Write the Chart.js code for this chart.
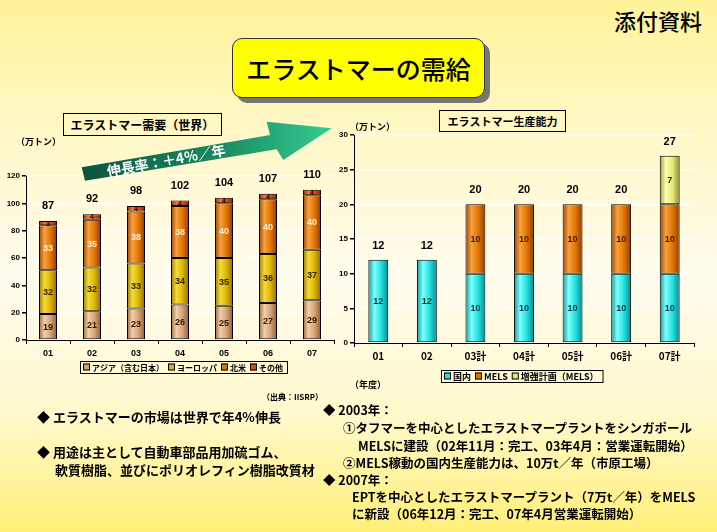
<!DOCTYPE html>
<html lang="ja">
<head>
<meta charset="utf-8">
<title>エラストマーの需給</title>
<script src="https://cdn.jsdelivr.net/npm/chart.js@4.4.1/dist/chart.umd.min.js"></script>
<style>
  html, body { margin: 0; padding: 0; }
  body {
    width: 717px; height: 532px; position: relative; overflow: hidden;
    background: linear-gradient(to bottom, #fff39a 0%, #fff7c2 22%, #fffcee 52%, #fff9cc 78%, #ffef78 100%);
    font-family: "Noto Sans CJK JP", sans-serif; color: #000;
  }
  .t { position: absolute; white-space: nowrap; font-weight: bold; }
  canvas { position: absolute; }
  .box { position: absolute; border: 1px solid #000; text-align: center; box-sizing: border-box; font-weight: bold; }
  #title {
    position: absolute; left: 232px; top: 38px; width: 253px; height: 60px; box-sizing: border-box;
    background: #ffff00; border: 1px solid #333; border-radius: 10px; box-shadow: 5px 5px 0 #777;
    font-size: 25px; font-weight: 500; line-height: 58px; text-align: center;
  }
  .line { position: absolute; white-space: nowrap; font-weight: bold; font-size: 13px; line-height: 17px; }
  .r { font-size: 12.5px; }
</style>
</head>
<body>

<div class="t" style="left:614px; top:4px; font-size:22px; font-weight:500;">添付資料</div>
<div id="title">エラストマーの需給</div>

<div class="box" style="left:63px; top:113px; width:159px; height:23px; font-size:12px; line-height:21px;">エラストマー需要（世界）</div>
<div class="box" style="left:439px; top:110px; width:127px; height:22px; font-size:11px; line-height:20px;">エラストマー生産能力</div>

<canvas id="demand" width="345" height="220" style="left:0; top:160px; width:345px; height:220px;"></canvas>
<canvas id="capacity" width="389" height="270" style="left:328px; top:120px; width:389px; height:270px;"></canvas>

<svg width="717" height="532" style="position:absolute; left:0; top:0; pointer-events:none;">
  <defs>
    <linearGradient id="arrowFill" x1="0" y1="0" x2="1" y2="0">
      <stop offset="0" stop-color="#0b5440"/>
      <stop offset="0.55" stop-color="#1a8a62"/>
      <stop offset="1" stop-color="#34cc90"/>
    </linearGradient>
  </defs>
  <polygon points="81.7,167.3 270,135 266.7,121.7 331.7,128.3 283.3,160 276.7,149.3 85,180.7" fill="url(#arrowFill)"/>
  <text x="166" y="160" transform="rotate(-10.5 166 160)" text-anchor="middle" dominant-baseline="central"
        fill="#fff" font-size="14" font-weight="bold" font-family="Noto Sans CJK JP">伸長率：＋4％／年</text>
</svg>

<div class="t" style="left:16px; top:135px; font-size:9px;">（万トン）</div>
<div class="t" style="left:350px; top:120px; font-size:9px;">（万トン）</div>
<div class="t" style="left:350px; top:378px; font-size:9px;">（年度）</div>
<div class="t" style="left:262px; top:391px; font-size:8px;">（出典：IISRP）</div>

<div class="line" style="left:37px; top:408px;">◆ エラストマーの市場は世界で年4%伸長</div>
<div class="line" style="left:37px; top:443px;">◆ 用途は主として自動車部品用加硫ゴム、</div>
<div class="line" style="left:55px; top:461px;">軟質樹脂、並びにポリオレフィン樹脂改質材</div>

<div class="line r" style="left:323px; top:401px;">◆ 2003年：</div>
<div class="line r" style="left:343px; top:419px;">①タフマーを中心としたエラストマープラントをシンガポール</div>
<div class="line r" style="left:358px; top:437px;">MELSに建設（02年11月：完工、03年4月：営業運転開始）</div>
<div class="line r" style="left:343px; top:454px;">②MELS稼動の国内生産能力は、10万t／年（市原工場）</div>
<div class="line r" style="left:323px; top:471px;">◆ 2007年：</div>
<div class="line r" style="left:352px; top:488px;">EPTを中心としたエラストマープラント（7万t／年）をMELS</div>
<div class="line r" style="left:352px; top:505px;">に新設（06年12月：完工、07年4月営業運転開始）</div>

<script>
// world demand, 10k tonnes
const years = ['01', '02', '03', '04', '05', '06', '07'];
const asia = [19, 21, 23, 26, 25, 27, 29];
const europe = [32, 32, 33, 34, 35, 36, 37];
const northAmerica = [33, 35, 38, 38, 40, 40, 40];
const others = [3, 4, 4, 4, 4, 4, 4];
const demandTotals = [87, 92, 98, 102, 104, 107, 110];

// production capacity, 10k tonnes
const fiscalYears = ['01', '02', '03計', '04計', '05計', '06計', '07計'];
const domestic = [12, 12, 10, 10, 10, 10, 10];
const mels = [0, 0, 10, 10, 10, 10, 10];
const expansion = [0, 0, 0, 0, 0, 0, 7];
const capacityTotals = [12, 12, 20, 20, 20, 20, 27];

const BAR_FRACTION = 0.41;

// edge, highlight, body, edge
const tanShade = ['#9c6a44', '#f2cfa8', '#d6a072', '#8e5c38'];
const goldShade = ['#9a7c00', '#f6da3a', '#dcb400', '#8a6c00'];
const orangeShade = ['#9a4600', '#f8a040', '#e27400', '#8a3c00'];
const redShade = ['#9a2800', '#f87040', '#e04810', '#8a2000'];
const cyanShade = ['#0c9a9a', '#80ffff', '#22e0e0', '#0a8888'];
const paleShade = ['#9c9c3c', '#ffffb0', '#e6e67a', '#8c8c30'];

// cylinder look: horizontal gradient across each bar
function cylinder(shade) {
    return function (c) {
        const chart = c.chart;
        const xs = chart.scales.x;
        if (c.type !== 'data' || !xs || !chart.chartArea) return shade[2];
        const w = xs.width / chart.data.labels.length * BAR_FRACTION;
        const x = xs.getPixelForValue(c.dataIndex);
        const g = chart.ctx.createLinearGradient(x - w / 2, 0, x + w / 2, 0);
        g.addColorStop(0, shade[0]);
        g.addColorStop(0.3, shade[1]);
        g.addColorStop(0.65, shade[2]);
        g.addColorStop(1, shade[3]);
        return g;
    };
}

function barSet(label, data, shade) {
    return {
        label: label,
        data: data,
        backgroundColor: cylinder(shade),
        borderColor: '#000',
        borderWidth: c => (c.raw ? 1 : 0),
        borderSkipped: false,
        categoryPercentage: 1,
        barPercentage: BAR_FRACTION
    };
}

// segment values + totals on top
const barLabels = {
    id: 'barLabels',
    afterDatasetsDraw(chart, args, opts) {
        const ctx = chart.ctx;
        ctx.save();
        ctx.textAlign = 'center';
        ctx.textBaseline = 'middle';
        chart.data.datasets.forEach((ds, di) => {
            const meta = chart.getDatasetMeta(di);
            ctx.font = opts.fonts[di];
            ctx.fillStyle = opts.colors[di];
            meta.data.forEach((bar, i) => {
                if (!ds.data[i]) return;
                ctx.fillText(ds.data[i], bar.x, (bar.y + bar.base) / 2 + 0.5);
            });
        });
        ctx.font = opts.totalFont;
        ctx.fillStyle = '#000';
        opts.totals.forEach((t, i) => {
            let top = chart.chartArea.bottom;
            chart.data.datasets.forEach((ds, di) => {
                if (ds.data[i]) top = Math.min(top, chart.getDatasetMeta(di).data[i].y);
            });
            ctx.fillText(t, chart.getDatasetMeta(0).data[i].x, top - opts.gap);
        });
        ctx.restore();
    }
};

// boxed legend under the axis
const boxLegend = {
    id: 'boxLegend',
    afterDraw(chart, args, opts) {
        const ctx = chart.ctx;
        ctx.save();
        ctx.font = opts.font;
        ctx.textBaseline = 'middle';
        ctx.lineWidth = 1;
        ctx.strokeStyle = '#000';
        const cy = opts.y + opts.h / 2;
        let x = opts.x + 3;
        chart.data.datasets.forEach((ds, di) => {
            ctx.fillStyle = opts.colors[di];
            ctx.fillRect(x, cy - 3.5, 7, 7);
            ctx.strokeRect(x + 0.5, cy - 3, 6, 6);
            x += 9;
            ctx.fillStyle = '#000';
            ctx.fillText(ds.label, x, cy + 0.5);
            x += ctx.measureText(ds.label).width + 4;
        });
        ctx.strokeRect(opts.x + 0.5, opts.y + 0.5, x - opts.x, opts.h);
        ctx.restore();
    }
};

function baseOptions(yMax, yStep, yWidth, xHeight, pad, xFont, xPad) {
    return {
        responsive: false,
        animation: false,
        events: [],
        layout: { padding: pad },
        plugins: { legend: { display: false }, tooltip: { enabled: false } },
        scales: {
            x: {
                stacked: true,
                grid: { drawOnChartArea: false, color: '#000', tickLength: 4, offset: true },
                border: { color: '#000', width: 1 },
                ticks: { color: '#000', font: xFont, padding: xPad, maxRotation: 0 },
                afterFit: s => { s.height = xHeight; }
            },
            y: {
                stacked: true,
                min: 0, max: yMax,
                grid: { color: 'rgba(255,255,255,0.85)', lineWidth: 1.5, tickColor: '#000', tickLength: 4 },
                border: { color: '#000', width: 1 },
                ticks: { stepSize: yStep, color: '#000', padding: 2,
                          font: { family: 'Liberation Sans', size: 8, weight: 'bold' } },
                afterFit: s => { s.width = yWidth; }
            }
        }
    };
}

const demandOpts = baseOptions(120, 20, 26, 40, { left: 0, right: 11, top: 16, bottom: 0 },
    { family: 'Liberation Sans', size: 9, weight: 'bold' }, 4);
demandOpts.plugins.barLabels = {
    fonts: ['bold 9px "Liberation Sans"', 'bold 9px "Liberation Sans"', 'bold 9px "Liberation Sans"', 'bold 7px "Liberation Sans"'],
    colors: ['#2a1a0a', '#2a2000', '#fff0dc', '#1a0a00'],
    totals: demandTotals,
    totalFont: 'bold 11px "Liberation Sans"',
    gap: 15
};
demandOpts.plugins.boxLegend = {
    x: 80, y: 201, h: 12,
    font: 'bold 8px "Noto Sans CJK JP"',
    colors: [tanShade[2], goldShade[2], orangeShade[2], redShade[2]]
};

new Chart(document.getElementById('demand'), {
    type: 'bar',
    data: {
        labels: years,
        datasets: [
            barSet('アジア（含む日本）', asia, tanShade),
            barSet('ヨーロッパ', europe, goldShade),
            barSet('北米', northAmerica, orangeShade),
            barSet('その他', others, redShade)
        ]
    },
    options: demandOpts,
    plugins: [barLabels, boxLegend]
});

const capacityOpts = baseOptions(30, 5, 26, 47, { left: 0, right: 23, top: 15, bottom: 0 },
    { family: 'Noto Sans CJK JP', size: 10, weight: 'bold' }, 3);
capacityOpts.plugins.barLabels = {
    fonts: ['bold 9px "Liberation Sans"', 'bold 9px "Liberation Sans"', 'bold 9px "Liberation Sans"'],
    colors: ['#063a3a', '#3a1a00', '#2a2a00'],
    totals: capacityTotals,
    totalFont: 'bold 11px "Liberation Sans"',
    gap: 14
};
capacityOpts.plugins.boxLegend = {
    x: 113, y: 250, h: 12,
    font: 'bold 9px "Noto Sans CJK JP"',
    colors: [cyanShade[2], orangeShade[2], paleShade[2]]
};

new Chart(document.getElementById('capacity'), {
    type: 'bar',
    data: {
        labels: fiscalYears,
        datasets: [
            barSet('国内', domestic, cyanShade),
            barSet('MELS', mels, orangeShade),
            barSet('増強計画（MELS）', expansion, paleShade)
        ]
    },
    options: capacityOpts,
    plugins: [barLabels, boxLegend]
});
</script>
</body>
</html>
